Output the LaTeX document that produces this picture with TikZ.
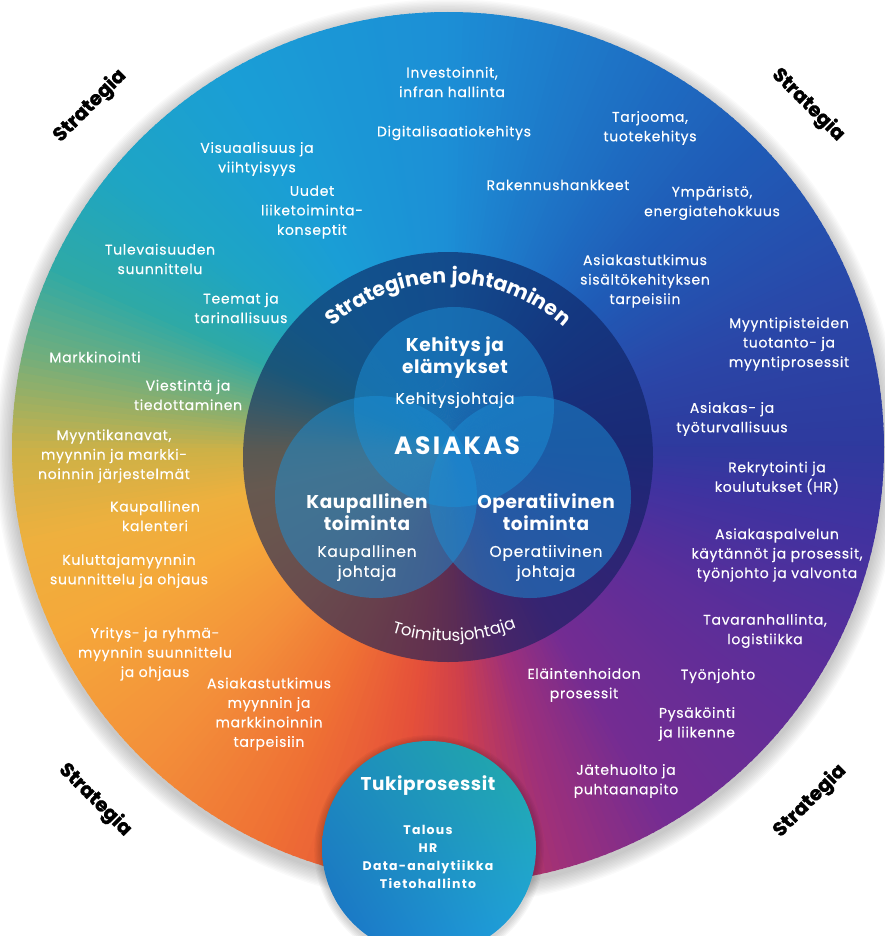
\documentclass[tikz,border=0pt]{standalone}
\usepackage{fontspec}
\setmainfont{Poppins}
\newfontfamily\spacedfont{Poppins}[LetterSpace=5,FakeBold=0.35]
\newfontfamily\headfont{Poppins}[LetterSpace=3]
\newfontfamily\widefont{Poppins}[LetterSpace=10]
\newfontfamily\stratfont{Poppins}[FakeBold=1.2]
\usepackage{xcolor}
\usetikzlibrary{decorations.text,shadings}

% ring colours, by angle
\definecolor{g0}{HTML}{2E3A9E}
\definecolor{g20}{HTML}{2A47A8}
\definecolor{g45}{HTML}{1F5CB7}
\definecolor{g65}{HTML}{1E72C5}
\definecolor{g90}{HTML}{1C8FD6}
\definecolor{g120}{HTML}{1A9ED6}
\definecolor{g140}{HTML}{1EA5C4}
\definecolor{g155}{HTML}{2EA9A6}
\definecolor{g167}{HTML}{72AE7C}
\definecolor{g180}{HTML}{CDB147}
\definecolor{g192}{HTML}{EEB03E}
\definecolor{g205}{HTML}{F5A83A}
\definecolor{g225}{HTML}{F3903A}
\definecolor{g245}{HTML}{EF7034}
\definecolor{g262}{HTML}{E5503A}
\definecolor{g272}{HTML}{D0404A}
\definecolor{g285}{HTML}{9E307A}
\definecolor{g300}{HTML}{742C92}
\definecolor{g330}{HTML}{5A2E9A}
\definecolor{g350}{HTML}{3E33A0}
\definecolor{navy}{HTML}{0D1F5C}
\definecolor{venn}{HTML}{1B8FD6}
\definecolor{tukiA}{HTML}{1D8DBF}
\definecolor{tukiB}{HTML}{22ABA5}
\definecolor{tukiC}{HTML}{1A6FC4}
\definecolor{tukiD}{HTML}{1FA3E2}

\begin{document}
\begin{tikzpicture}[x=1pt,y=1pt,
    txt/.style={text=white, align=center, inner sep=0pt, font=\spacedfont\fontsize{14}{19.5}\selectfont},
    hd/.style={text=white, align=center, inner sep=0pt, font=\headfont\bfseries\fontsize{18.5}{22}\selectfont},
    sub/.style={text=white, align=center, inner sep=0pt, font=\spacedfont\fontsize{15.5}{20}\selectfont},
    strat/.style={text=black, inner sep=0pt, font=\stratfont\bfseries\fontsize{19.5}{19.5}\selectfont}]
  \useasboundingbox (0,0) rectangle (884,-936);
  \coordinate (c0) at (448,-448);
  \coordinate (c1) at (448,-457);
  \coordinate (c2) at (429,-848);

  % soft shadow
  \foreach \i in {1,...,12}
    \fill[black, opacity=0.02] (448,-452) circle (436+\i*1.4);

  % colour ring
  \foreach \aa/\ab/\ca/\cb in {0/20/g0/g20, 20/45/g20/g45, 45/65/g45/g65,
      65/90/g65/g90, 90/120/g90/g120, 120/140/g120/g140, 140/155/g140/g155,
      155/167/g155/g167, 167/180/g167/g180, 180/192/g180/g192,
      192/205/g192/g205, 205/225/g205/g225,
      225/245/g225/g245, 245/262/g245/g262, 262/272/g262/g272,
      272/285/g272/g285, 285/300/g285/g300, 300/330/g300/g330,
      330/350/g330/g350, 350/360/g350/g0} {
    \pgfmathtruncatemacro\n{\ab-\aa-1}
    \foreach \i in {0,...,\n} {
      \pgfmathtruncatemacro\p{100-100*\i/(\ab-\aa)}
      \fill[\ca!\p!\cb] (c0) -- ++(\aa+\i:436)
        arc[start angle=\aa+\i, end angle=\aa+\i+1.3, radius=436] -- cycle;
    }
  }

  % inner circles
  \fill[navy, opacity=0.6] (c1) circle (205);
  \fill[venn, fill opacity=0.5] (454,-407) circle (100);
  \fill[venn, fill opacity=0.5] (376,-497) circle (101);
  \fill[venn, fill opacity=0.5] (530,-497) circle (101);

  \path[decorate, decoration={text along path, text align=center,
      text={|\headfont\bfseries\fontsize{20.5}{20.5}\selectfont\color{white}|Strateginen johtaminen}}]
    (c1) ++(160:174) arc[start angle=160, end angle=20, radius=174];
  \path[decorate, decoration={text along path, text align=center,
      text={|\headfont\fontsize{16.5}{16.5}\selectfont\color{white}|Toimitusjohtaja}}]
    (c1) ++(222:184) arc[start angle=222, end angle=322, radius=184];

  % tukiprosessit
  \foreach \i in {1,...,6}
    \fill[black, opacity=0.03] (429,-850) circle (107+\i*1.3);
  \shade[upper left=tukiA, upper right=tukiB, lower left=tukiC, lower right=tukiD]
    (c2) circle (107);

  \node[txt] (A) at (452,-82) {Investoinnit,\\infran hallinta};
  \node[txt] (B) at (454,-133) {Digitalisaatiokehitys};
  \node[txt] (C) at (650,-128) {Tarjooma,\\tuotekehitys};
  \node[txt] (D) at (257,-159) {Visuaalisuus ja\\viihtyisyys};
  \node[txt] (E) at (312,-212) {Uudet\\liiketoiminta-\\konseptit};
  \node[txt] (F) at (558,-185) {Rakennushankkeet};
  \node[txt] (G) at (712,-203) {Ympäristö,\\energiatehokkuus};
  \node[txt] (H) at (160,-259) {Tulevaisuuden\\suunnittelu};
  \node[txt] (I) at (241,-308) {Teemat ja\\tarinallisuus};
  \node[txt] (J) at (645,-281) {Asiakastutkimus\\sisältökehityksen\\tarpeisiin};
  \node[txt] (K) at (789,-344) {Myyntipisteiden\\tuotanto- ja\\myyntiprosessit};
  \node[txt] (L) at (95,-357) {Markkinointi};
  \node[txt] (M) at (188,-395) {Viestintä ja\\tiedottaminen};
  \node[txt] (N) at (732,-419) {Asiakas- ja\\työturvallisuus};
  \node[txt] (O) at (114,-456) {Myyntikanavat,\\myynnin ja markki-\\noinnin järjestelmät};
  \node[txt] (P) at (777,-478) {Rekrytointi ja\\koulutukset (HR)};
  \node[txt] (Q) at (155,-516) {Kaupallinen\\kalenteri};
  \node[txt] (R) at (777,-555) {Asiakaspalvelun\\käytännöt ja prosessit,\\työnjohto ja valvonta};
  \node[txt] (S) at (129,-571) {Kuluttajamyynnin\\suunnittelu ja ohjaus};
  \node[txt] (T) at (155,-654) {Yritys- ja ryhmä-\\myynnin suunnittelu\\ja ohjaus};
  \node[txt] (U) at (765,-631) {Tavaranhallinta,\\logistiikka};
  \node[txt] (V) at (269,-714) {Asiakastutkimus\\myynnin ja\\markkinoinnin\\tarpeisiin};
  \node[txt] (W) at (584,-685) {Eläintenhoidon\\prosessit};
  \node[txt] (X) at (718,-676) {Työnjohto};
  \node[txt] (Y) at (697,-724) {Pysäköinti\\ja liikenne};
  \node[txt] (Z) at (626,-781) {Jätehuolto ja\\puhtaanapito};

  \node[strat, rotate=45] (S1) at (90,-106) {Strategia};
  \node[strat, rotate=-45] (S2) at (808,-105) {Strategia};
  \node[strat, rotate=-45] (S3) at (95,-800) {Strategia};
  \node[strat, rotate=45] (S4) at (810,-801) {Strategia};

  \node[hd] (KE) at (455,-358) {Kehitys ja\\elämykset};
  \node[sub] (KJ) at (455,-400) {Kehitysjohtaja};
  \node[text=white, inner sep=0pt, font=\widefont\bfseries\fontsize{25}{25}\selectfont] (AS) at (457,-446) {ASIAKAS};
  \node[hd] (KT) at (367,-512) {Kaupallinen\\toiminta};
  \node[sub] (KP) at (367,-563) {Kaupallinen\\johtaja};
  \node[hd] (OT) at (546,-512) {Operatiivinen\\toiminta};
  \node[sub] (OP) at (546,-563) {Operatiivinen\\johtaja};

  \node[hd] (TP) at (428,-786) {Tukiprosessit};
  \node[text=white, align=center, inner sep=0pt, font=\widefont\bfseries\fontsize{12.5}{18}\selectfont] (TL) at (428,-857)
    {Talous\\HR\\Data-analytiikka\\Tietohallinto};
\end{tikzpicture}
\end{document}
